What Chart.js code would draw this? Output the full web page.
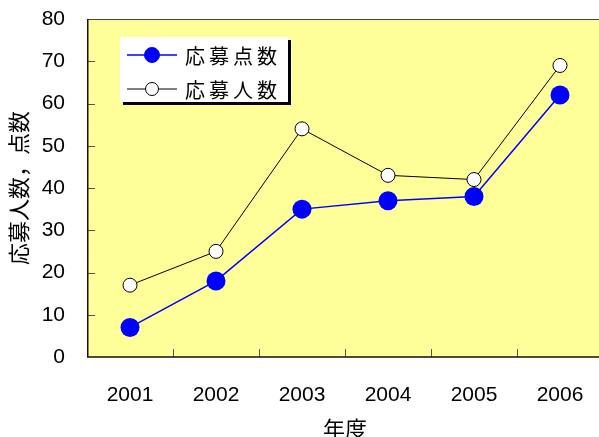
<!DOCTYPE html>
<html><head><meta charset="utf-8">
<script src="https://cdn.jsdelivr.net/npm/chart.js@4"></script>
<style>html,body{margin:0;padding:0;background:#fff;overflow:hidden;width:599px;height:437px}canvas{display:block}</style>
</head><body>
<canvas id="c" width="603" height="437" style="width:603px;height:437px"></canvas>
<script>
const years = ['2001','2002','2003','2004','2005','2006'];
const entries = [7, 18, 35, 37, 38, 62];      // 応募点数
const applicants = [17, 25, 54, 43, 42, 69];  // 応募人数
const seriesNames = ['応募点数','応募人数'];
const yTitle = '応募人数，点数';
const xTitle = '年度';

const NUM_FONT = "'Liberation Sans', Arial, sans-serif";
const CJK_FONT = "'Noto Sans CJK JP', sans-serif";

const deco = {
  id: 'deco',
  beforeDraw(chart) {
    const {ctx, chartArea: a} = chart;
    ctx.save();
    ctx.fillStyle = '#FFFF99';
    ctx.fillRect(a.left, a.top, a.right - a.left, a.bottom - a.top);
    ctx.restore();
  },
  beforeDatasetsDraw(chart) {
    const {ctx, chartArea: a, scales} = chart;
    ctx.save();
    ctx.strokeStyle = '#444';
    ctx.lineWidth = 1;
    ctx.beginPath();
    ctx.moveTo(a.left, a.top + 0.5); ctx.lineTo(a.right, a.top + 0.5);
    ctx.moveTo(a.right - 0.5, a.top); ctx.lineTo(a.right - 0.5, a.bottom);
    ctx.stroke();
    ctx.strokeStyle = '#555';
    ctx.beginPath();
    scales.y.ticks.forEach(t => {
      if (t.value <= 0 || t.value >= 80) return;
      const y = Math.round(scales.y.getPixelForValue(t.value)) + 0.5;
      ctx.moveTo(a.left, y); ctx.lineTo(a.left + 8, y);
    });
    for (let i = 0; i < years.length - 1; i++) {
      const x = Math.round((scales.x.getPixelForValue(i) + scales.x.getPixelForValue(i + 1)) / 2) + 0.5;
      ctx.moveTo(x, a.bottom); ctx.lineTo(x, a.bottom - 8);
    }
    ctx.stroke();
    ctx.strokeStyle = '#111';
    ctx.lineWidth = 1.5;
    ctx.beginPath();
    ctx.moveTo(a.left + 0.75, a.top); ctx.lineTo(a.left + 0.75, a.bottom);
    ctx.lineTo(a.right, a.bottom);
    ctx.stroke();
    ctx.restore();
  },
  afterDraw(chart) {
    const {ctx} = chart;
    const bx = 120, by = 37, bw = 168, bh = 65;
    ctx.save();
    ctx.fillStyle = '#000';
    ctx.fillRect(bx + 3, by + 3, bw, bh);
    ctx.fillStyle = '#fff';
    ctx.fillRect(bx, by, bw, bh);
    const rows = [55, 89];
    chart.data.datasets.forEach((ds, i) => {
      const y = rows[i];
      ctx.strokeStyle = ds.borderColor;
      ctx.lineWidth = ds.borderWidth;
      ctx.beginPath();
      ctx.moveTo(127, y); ctx.lineTo(177, y);
      ctx.stroke();
      ctx.beginPath();
      ctx.arc(152, y, i === 0 ? 7.5 : 6.5, 0, Math.PI * 2);
      ctx.fillStyle = ds.pointBackgroundColor;
      ctx.fill();
      ctx.lineWidth = 1;
      ctx.strokeStyle = ds.pointBorderColor;
      ctx.stroke();
      ctx.fillStyle = '#000';
      ctx.font = '20px ' + CJK_FONT;
      ctx.textBaseline = 'middle';
      ctx.letterSpacing = '4px';
      ctx.fillText(ds.label, 185, y + 1);
    });
    ctx.restore();
  }
};

new Chart(document.getElementById('c'), {
  type: 'line',
  data: {
    labels: years,
    datasets: [
      {
        label: seriesNames[0], data: entries,
        borderColor: '#0000FF', borderWidth: 1.5,
        pointBackgroundColor: '#0000FF', pointBorderColor: '#0000FF',
        pointRadius: 9.5, pointBorderWidth: 0, pointHoverRadius: 9.5
      },
      {
        label: seriesNames[1], data: applicants,
        borderColor: '#000000', borderWidth: 1,
        pointBackgroundColor: '#FFFFFF', pointBorderColor: '#000000',
        pointRadius: 7, pointBorderWidth: 1, pointHoverRadius: 7
      }
    ]
  },
  options: {
    responsive: false,
    animation: false,
    events: [],
    layout: {autoPadding: false, padding: {top: 19, right: 0, left: 0, bottom: 0}},
    plugins: {legend: {display: false}, tooltip: {enabled: false}},
    scales: {
      x: {
        offset: true,
        grid: {display: false, drawTicks: false},
        border: {display: false},
        ticks: {color: '#000', font: {family: NUM_FONT, size: 21}, padding: 26, maxRotation: 0},
        title: {display: true, text: xTitle, color: '#000', font: {family: CJK_FONT, size: 22}, padding: {top: 2, bottom: -5}},
        afterFit(s) { s.height = 80; s.paddingLeft = 0; s.paddingRight = 0; }
      },
      y: {
        min: 0, max: 80,
        grid: {display: false, drawTicks: false},
        border: {display: false},
        ticks: {stepSize: 10, color: '#000', font: {family: NUM_FONT, size: 21}, padding: 22},
        title: {display: true, text: yTitle, color: '#000', font: {family: CJK_FONT, size: 22}, padding: {top: 5, bottom: 0}},
        afterFit(s) { s.width = 87; s.paddingTop = 0; s.paddingBottom = 0; }
      }
    }
  },
  plugins: [deco]
});
</script>
</body></html>
